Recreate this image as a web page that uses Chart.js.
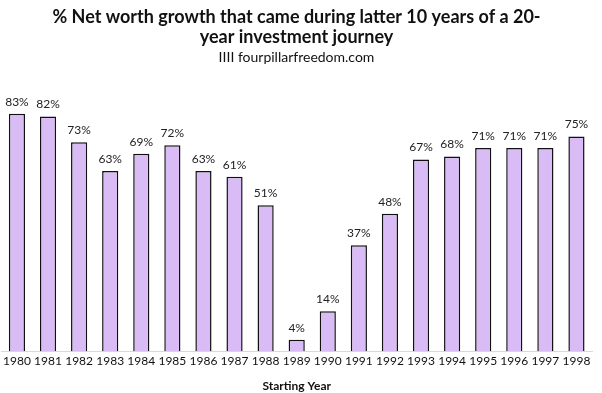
<!DOCTYPE html>
<html>
<head>
<meta charset="utf-8">
<script src="https://cdn.jsdelivr.net/npm/chart.js@4/dist/chart.umd.min.js"></script>
<style>
  html, body { margin: 0; padding: 0; background: #fff; }
  #wrap { width: 602px; height: 393px; }
</style>
</head>
<body>
<div id="wrap"><canvas id="growthChart"></canvas></div>
<script>
// starting year of each 20-year window
const years = ['1980', '1981', '1982', '1983', '1984', '1985', '1986', '1987', '1988', '1989',
               '1990', '1991', '1992', '1993', '1994', '1995', '1996', '1997', '1998'];

// % of net worth growth that came in the last 10 years
const latterShare = [83, 82, 73, 63, 69, 72, 63, 61, 51, 4, 14, 37, 48, 67, 68, 71, 71, 71, 75];

const titleLines = ['% Net worth growth that came during latter 10 years of a 20-', 'year investment journey'];
const subtitleText = 'IIII fourpillarfreedom.com';
const xAxisLabel = 'Starting Year';

const FONT = 'Lato, "Open Sans", sans-serif';

/**
 * Draw the "83%" style labels over every bar
 */
const barLabels = {
    id: 'barLabels',
    afterDatasetsDraw(chart) {
        const ctx = chart.ctx;
        const meta = chart.getDatasetMeta(0);
        ctx.save();
        ctx.font = '12px ' + FONT;
        ctx.fillStyle = '#222';
        ctx.textAlign = 'center';
        ctx.textBaseline = 'bottom';
        meta.data.forEach((bar, idx) => {
            ctx.fillText(latterShare[idx] + '%', bar.x, bar.y - 6);
        });
        ctx.restore();
    }
};

const chartRef = document.getElementById('growthChart');
const growthChart = new Chart(chartRef, {
    type: 'bar',
    data: {
        labels: years,
        datasets: [{
            data: latterShare,
            backgroundColor: '#d9bbf6',
            borderColor: '#111',
            borderWidth: 1.5,
            barPercentage: 0.52,
            categoryPercentage: 1.0
        }]
    },
    plugins: [barLabels],
    options: {
        responsive: true,
        maintainAspectRatio: false,
        animation: false,
        events: [],
        layout: { padding: { left: 1, right: 10, top: 0, bottom: 0 } },
        plugins: {
            legend: { display: false },
            tooltip: { enabled: false },
            title: {
                display: true,
                text: titleLines,
                color: '#111',
                font: { family: FONT, size: 18, weight: 'bold', lineHeight: 1.11 },
                padding: { top: 7, bottom: 2 }
            },
            subtitle: {
                display: true,
                text: subtitleText,
                color: '#111',
                font: { family: FONT, size: 14, lineHeight: 1.15 },
                padding: { top: 0, bottom: 0 }
            }
        },
        scales: {
            x: {
                grid: { display: false, drawTicks: false },
                border: { display: true, color: '#d9d9d9' },
                ticks: {
                    color: '#111',
                    font: { family: FONT, size: 12 },
                    maxRotation: 0,
                    autoSkip: false,
                    padding: 3
                },
                title: {
                    display: true,
                    text: xAxisLabel,
                    color: '#111',
                    font: { family: FONT, size: 12, weight: 'bold' },
                    padding: { top: 7, bottom: 0 }
                }
            },
            y: {
                display: false,
                min: 0,
                max: 100
            }
        }
    }
});
</script>
</body>
</html>
